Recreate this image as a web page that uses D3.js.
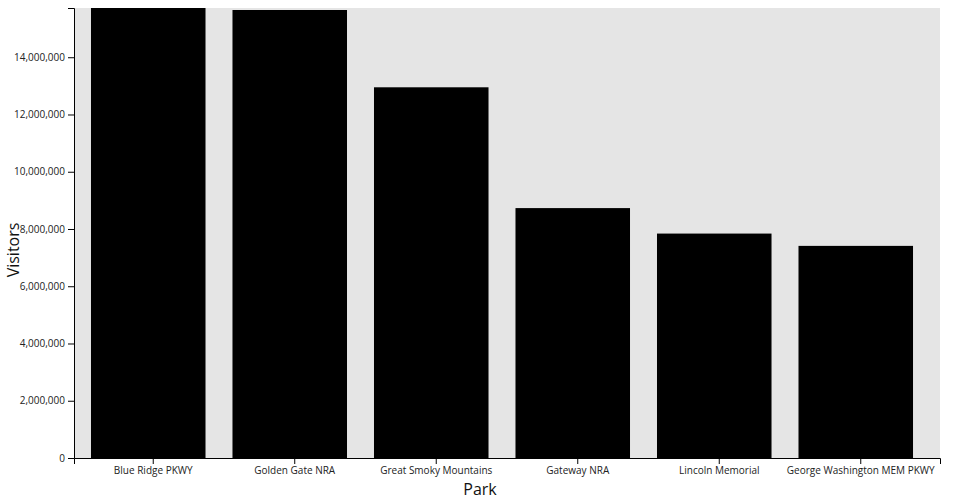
<!DOCTYPE html>
<html>
<head>
<meta charset="utf-8">
<script src="https://cdn.jsdelivr.net/npm/d3@7"></script>
<style>
  body { margin: 0; background: #fff; }
  svg { font-family: "Open Sans", sans-serif; }
  .axis text { font-family: "Open Sans", sans-serif; font-size: 10px; fill: #222; }
  .axis path, .axis line { stroke: #000; }
</style>
</head>
<body>
<svg id="chart" width="960" height="500"></svg>
<script>
const parks = ["Blue Ridge PKWY", "Golden Gate NRA", "Great Smoky Mountains", "Gateway NRA", "Lincoln Memorial", "George Washington MEM PKWY"];
const visitors = [15720000, 15650000, 12950000, 8730000, 7840000, 7410000];
const xTitle = "Park";
const yTitle = "Visitors";

const W = 960, H = 500;
const margin = {top: 8, right: 20, bottom: 42, left: 74};
const width = W - margin.left - margin.right;
const height = H - margin.top - margin.bottom;

const svg = d3.select("#chart");
const g = svg.append("g").attr("transform", `translate(${margin.left},${margin.top})`);

g.append("rect").attr("width", width).attr("height", height).attr("fill", "#e5e5e5");

const x = d3.scaleBand().domain(parks).range([0, width]).padding(0.12);
const y = d3.scaleLinear().domain([0, d3.max(visitors)]).range([height, 0]);

const data = parks.map((p, i) => ({park: p, value: visitors[i]}));
const barW = x.bandwidth() - 10;

g.selectAll("rect.bar").data(data).enter().append("rect")
  .attr("class", "bar")
  .attr("x", d => x(d.park))
  .attr("y", d => y(d.value))
  .attr("width", barW)
  .attr("height", d => height - y(d.value))
  .attr("fill", "#000");

g.append("g").attr("class", "axis")
  .attr("transform", `translate(0,${height})`)
  .call(d3.axisBottom(x));

g.append("g").attr("class", "axis")
  .call(d3.axisLeft(y).ticks(8).tickFormat(d3.format(",")));

svg.append("text")
  .attr("x", W / 2)
  .attr("y", H - 5)
  .attr("text-anchor", "middle")
  .attr("font-size", "16px")
  .attr("fill", "#111")
  .text(xTitle);

svg.append("text")
  .attr("transform", `translate(19,${H / 2}) rotate(-90)`)
  .attr("text-anchor", "middle")
  .attr("font-size", "16px")
  .attr("fill", "#111")
  .text(yTitle);
</script>
</body>
</html>
